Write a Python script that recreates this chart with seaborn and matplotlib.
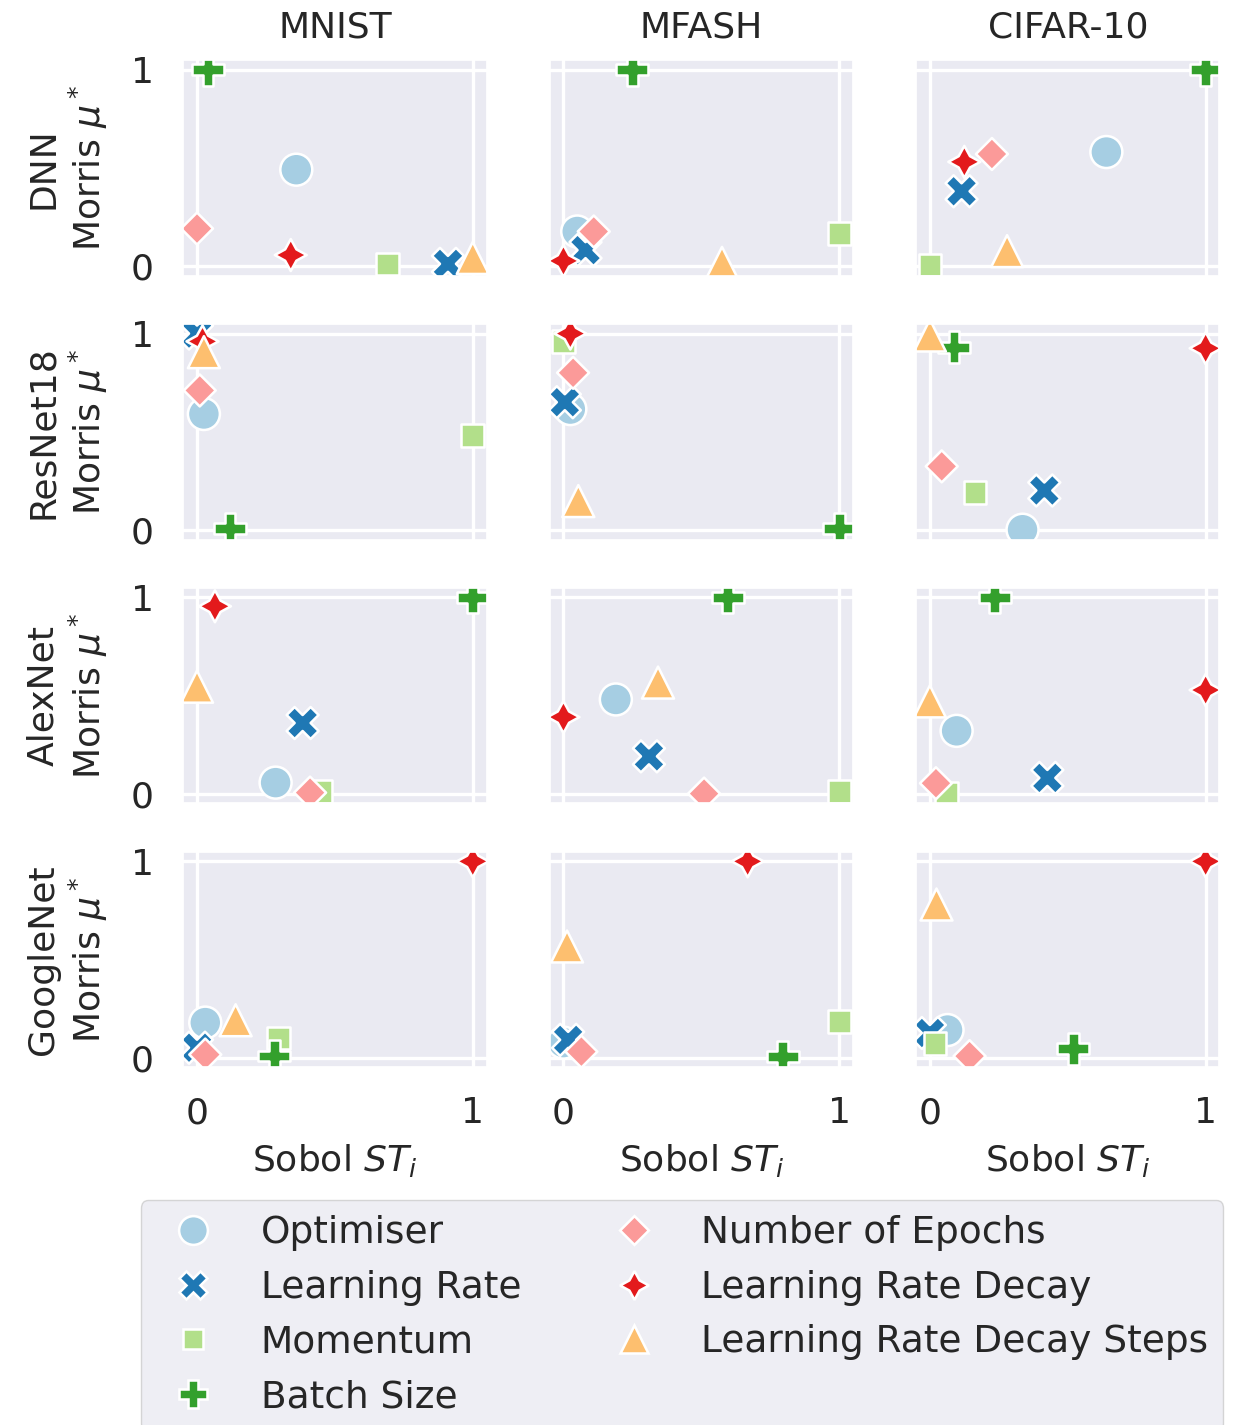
import matplotlib

matplotlib.use("Agg")
import matplotlib.pyplot as plt
import pandas as pd
import seaborn as sns

MODELS = ["DNN", "ResNet18", "AlexNet", "GoogleNet"]
DATASETS = ["MNIST", "MFASH", "CIFAR-10"]
PARAMETERS = [
    "Optimiser",
    "Learning Rate",
    "Momentum",
    "Batch Size",
    "Number of Epochs",
    "Learning Rate Decay",
    "Learning Rate Decay Steps",
]

# one inner list per dataset (MNIST, MFASH, CIFAR-10), values in PARAMETERS order
SOBOL_DNN = [
    [0.36, 0.91, 0.69, 0.04, 0.0, 0.34, 1.0],
    [0.05, 0.08, 1.0, 0.25, 0.11, 0.0, 0.575],
    [0.64, 0.115, 0.0, 1.0, 0.225, 0.125, 0.28],
]
MORRIS_DNN = [
    [0.49, 0.01, 0.01, 1.0, 0.19, 0.055, 0.04],
    [0.175, 0.08, 0.165, 1.0, 0.175, 0.025, 0.015],
    [0.58, 0.38, 0.005, 1.0, 0.57, 0.53, 0.075],
]
SOBOL_RESNET = [
    [0.025, 0.0, 1.0, 0.12, 0.01, 0.02, 0.025],
    [0.025, 0.005, 0.0, 1.0, 0.035, 0.025, 0.054],
    [0.336, 0.415, 0.163, 0.087, 0.043, 1.0, 0.0],
]
MORRIS_RESNET = [
    [0.59, 1.0, 0.48, 0.005, 0.71, 0.96, 0.905],
    [0.615, 0.65, 0.96, 0.005, 0.80, 1.0, 0.146],
    [0.0, 0.2, 0.19, 0.93, 0.323, 0.925, 0.99],
]
SOBOL_ALEXNET = [
    [0.285, 0.383, 0.45, 1.0, 0.41, 0.065, 0.0],
    [0.19, 0.31, 1.0, 0.596, 0.51, 0.0, 0.343],
    [0.097, 0.426, 0.06, 0.235, 0.022, 1.0, 0.0],
]
MORRIS_ALEXNET = [
    [0.056, 0.36, 0.01, 1.0, 0.005, 0.955, 0.545],
    [0.48, 0.19, 0.01, 1.0, 0.0, 0.39, 0.566],
    [0.32, 0.08, 0.0, 1.0, 0.053, 0.528, 0.47],
]
SOBOL_GOOGLENET = [
    [0.03, 0.0, 0.296, 0.28, 0.03, 1.0, 0.14],
    [0.0, 0.017, 1.0, 0.795, 0.065, 0.668, 0.013],
    [0.064, 0.0, 0.018, 0.52, 0.144, 1.0, 0.024],
]
MORRIS_GOOGLENET = [
    [0.178, 0.05, 0.1, 0.007, 0.015, 1.0, 0.19],
    [0.076, 0.09, 0.183, 0.005, 0.03, 1.0, 0.566],
    [0.14, 0.125, 0.07, 0.045, 0.007, 1.0, 0.78],
]

SOBOL = [SOBOL_DNN, SOBOL_RESNET, SOBOL_ALEXNET, SOBOL_GOOGLENET]
MORRIS = [MORRIS_DNN, MORRIS_RESNET, MORRIS_ALEXNET, MORRIS_GOOGLENET]

FONT_SIZE = 26

sns.set_theme(style="darkgrid")
plt.rcParams.update(
    {
        "font.family": "DejaVu Sans",
        "font.size": FONT_SIZE,
        "axes.titlesize": FONT_SIZE,
        "axes.labelsize": FONT_SIZE,
        "xtick.labelsize": FONT_SIZE,
        "ytick.labelsize": FONT_SIZE,
        "legend.fontsize": 27,
        "grid.linewidth": 2.4,
        "text.color": "#262626",
    }
)

rows = []
for m, model in enumerate(MODELS):
    for d, dataset in enumerate(DATASETS):
        for p, param in enumerate(PARAMETERS):
            rows.append(
                {
                    "model": model,
                    "dataset": dataset,
                    "parameter": param,
                    "sobol": SOBOL[m][d][p],
                    "morris": MORRIS[m][d][p],
                }
            )
df = pd.DataFrame(rows)

fig, axes = plt.subplots(4, 3, figsize=(12.38, 14.25), dpi=100, sharex=True, sharey=True)
fig.subplots_adjust(left=0.148, right=0.985, top=0.958, bottom=0.251, wspace=0.208, hspace=0.223)

for m, model in enumerate(MODELS):
    for d, dataset in enumerate(DATASETS):
        ax = axes[m, d]
        sub = df[(df["model"] == model) & (df["dataset"] == dataset)]
        sns.scatterplot(
            data=sub,
            x="sobol",
            y="morris",
            hue="parameter",
            style="parameter",
            hue_order=PARAMETERS,
            style_order=PARAMETERS,
            palette="Paired",
            s=530,
            ax=ax,
            legend=(m == 0 and d == 0),
        )
        ax.set_xlim(-0.05, 1.05)
        ax.set_ylim(-0.05, 1.05)
        ax.set_xticks([0, 1])
        ax.set_yticks([0, 1])
        ax.tick_params(pad=15)
        ax.set_xlabel("Sobol $ST_i$" if m == 3 else "", labelpad=8)
        ax.set_ylabel(f"{model}\nMorris $\\mu^*$" if d == 0 else "", labelpad=15)
        if m == 0:
            ax.set_title(dataset, pad=16)

handles, labels = axes[0, 0].get_legend_handles_labels()
axes[0, 0].get_legend().remove()
fig.legend(
    handles,
    labels,
    loc="upper center",
    bbox_to_anchor=(0.551, 1 - 1200 / 1425),
    borderaxespad=0,
    ncol=2,
    frameon=True,
    markerscale=0.9,
)

fig.savefig("out.png", dpi=100)
plt.close(fig)
